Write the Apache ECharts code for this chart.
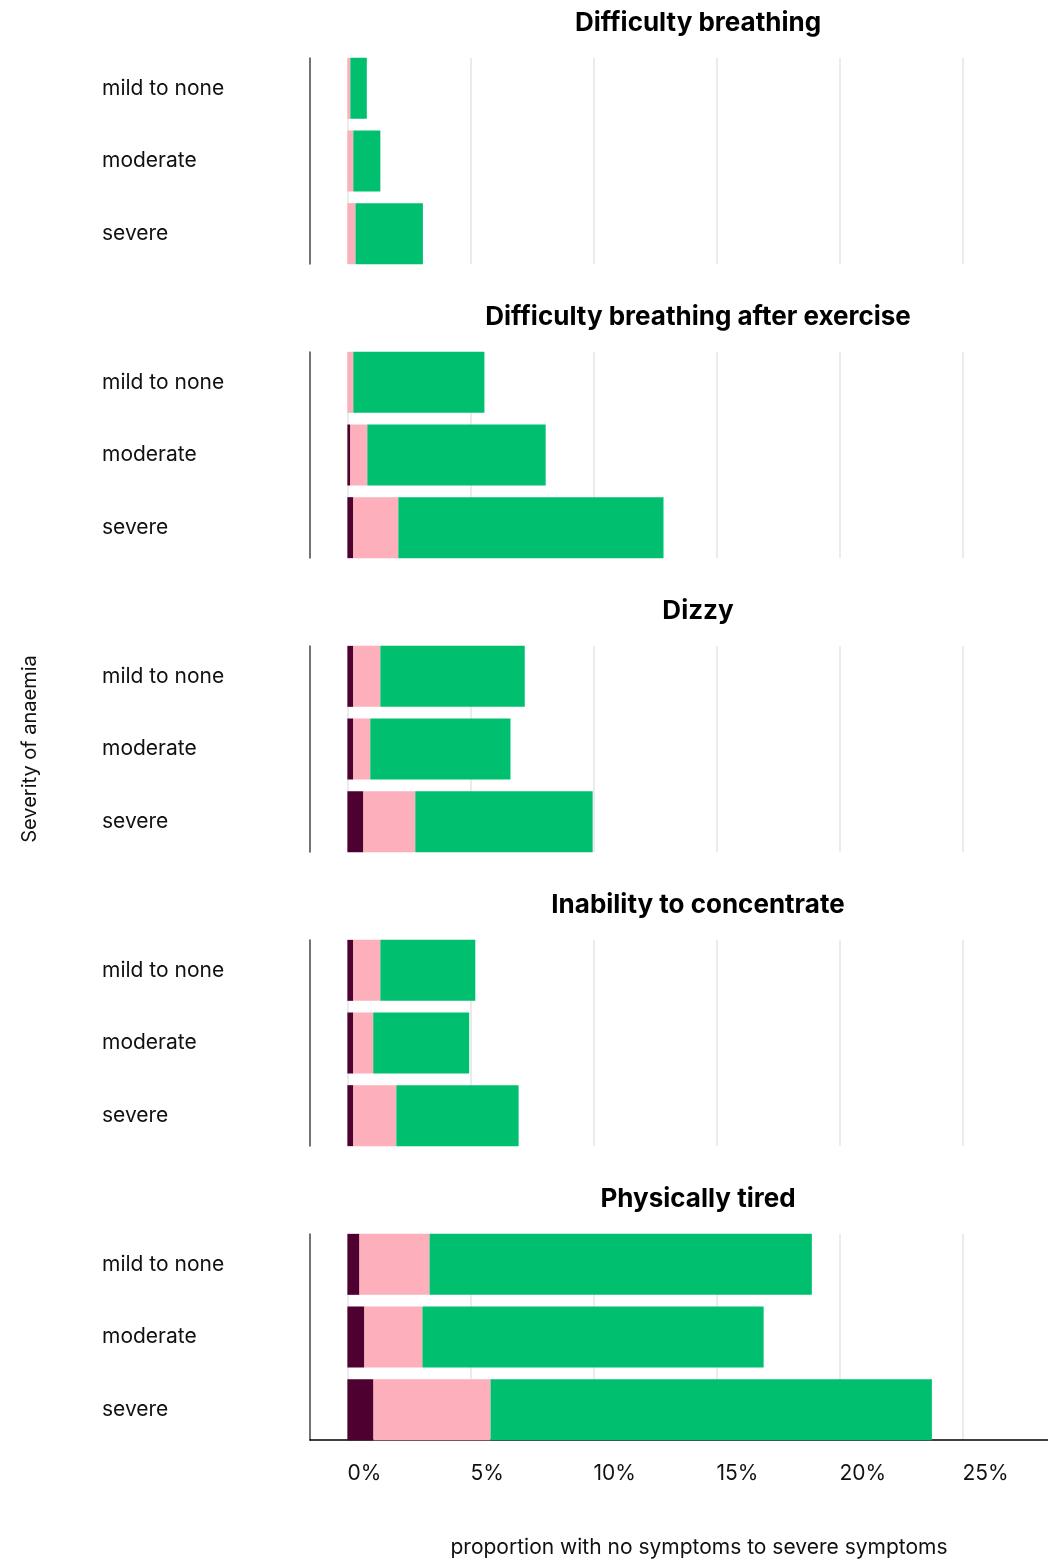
<!DOCTYPE html>
<html>
<head>
<meta charset="utf-8">
<script src="https://cdn.jsdelivr.net/npm/echarts@6/dist/echarts.min.js"></script>
<style>
  html, body { margin: 0; padding: 0; background: #fff; }
  #chart { width: 1048px; height: 1563px; }
</style>
</head>
<body>
<div id="chart"></div>
<script>
// ---- data ----
const symptoms = ['Difficulty breathing', 'Difficulty breathing after exercise', 'Dizzy', 'Inability to concentrate', 'Physically tired'];
const severity = ['mild to none', 'moderate', 'severe'];
const tickValues = [0, 5, 10, 15, 20, 25];
// proportion (%) per symptom panel, per anaemia severity [mild to none, moderate, severe]
const severeSymptoms   = [[0.00, 0.00, 0.00], [0.00, 0.12, 0.24], [0.24, 0.24, 0.65], [0.24, 0.24, 0.24], [0.49, 0.69, 1.06]];
const moderateSymptoms = [[0.12, 0.24, 0.33], [0.24, 0.69, 1.83], [1.10, 0.69, 2.11], [1.10, 0.81, 1.75], [2.85, 2.36, 4.76]];
const mildSymptoms     = [[0.67, 1.10, 2.74], [5.33, 7.25, 10.78], [5.87, 5.70, 7.21], [3.86, 3.90, 4.97], [15.54, 13.87, 17.94]];

const FONT = 'Inter, "Noto Sans", sans-serif';
const colors = { severe: '#4e0030', moderate: '#fdb0bb', mild: '#00bf6f' };

const chart = echarts.init(document.getElementById('chart'), null, { renderer: 'canvas' });

const PANEL_STEP = 294, FIRST_TOP = 58, LINE_H = 206;
const X_MIN = -1.52, X_MAX = 28.48;
const grids = [], xAxes = [], yAxes = [], series = [], titles = [];

symptoms.forEach((name, i) => {
  const top = FIRST_TOP + PANEL_STEP * i;
  const isLast = i === symptoms.length - 1;
  const isMid = i === 2;
  // grid for axis line + gridlines
  grids.push({ left: 310, width: 738, top: top, height: LINE_H, containLabel: false });
  // grid for bars
  grids.push({ left: 310, width: 738, top: top - 6, height: LINE_H + 12, containLabel: false });
  const gL = 2 * i, gB = 2 * i + 1;

  xAxes.push({
    gridIndex: gL, type: 'value', min: X_MIN, max: X_MAX,
    axisLine: { show: isLast, onZero: false, lineStyle: { color: '#000', width: 1.5 } },
    axisTick: { show: false, customValues: tickValues },
    axisLabel: {
      show: isLast, customValues: tickValues, align: 'left', margin: 23,
      fontFamily: FONT, fontSize: 21, color: '#111',
      formatter: v => v + '%'
    },
    splitLine: { show: true, lineStyle: { color: '#e3e5e5', width: 1.5 } },
    name: isLast ? 'proportion with no symptoms to severe symptoms' : '',
    nameLocation: 'middle', nameGap: 97,
    nameTextStyle: { fontFamily: FONT, fontSize: 21, color: '#111', padding: [0, 0, 0, 40] }
  });
  xAxes.push({
    gridIndex: gB, type: 'value', min: X_MIN, max: X_MAX, show: false
  });
  yAxes.push({
    gridIndex: gL, type: 'value', min: 0, max: 1,
    axisLine: { show: true, onZero: false, lineStyle: { color: '#444', width: 1.5 } },
    axisTick: { show: false }, axisLabel: { show: false }, splitLine: { show: false },
    name: isMid ? 'Severity of anaemia' : '',
    nameLocation: 'middle', nameGap: 280, nameRotate: 90,
    nameTextStyle: { fontFamily: FONT, fontSize: 20, color: '#111', verticalAlign: 'middle', align: 'center' }
  });
  yAxes.push({
    gridIndex: gB, type: 'category', data: severity, inverse: true,
    axisLine: { show: false, onZero: false }, axisTick: { show: false }, splitLine: { show: false },
    axisLabel: { align: 'left', margin: 208, fontFamily: FONT, fontSize: 21, color: '#111' }
  });

  const stackId = 'p' + i;
  [['severe', severeSymptoms], ['moderate', moderateSymptoms], ['mild', mildSymptoms]].forEach(([key, arr]) => {
    series.push({
      type: 'bar', name: key, stack: stackId,
      xAxisIndex: 2 * i + 1, yAxisIndex: 2 * i + 1,
      barWidth: 61,
      data: arr[i],
      itemStyle: { color: colors[key] },
      silent: true, animation: false
    });
  });

  titles.push({
    text: name, left: 698, top: top - 48, textAlign: 'center', padding: 0,
    textStyle: { fontFamily: FONT, fontSize: 26, fontWeight: 'bold', color: '#000' }
  });
});

chart.setOption({
  animation: false,
  title: titles,
  grid: grids,
  xAxis: xAxes,
  yAxis: yAxes,
  series: series
});
</script>
</body>
</html>
